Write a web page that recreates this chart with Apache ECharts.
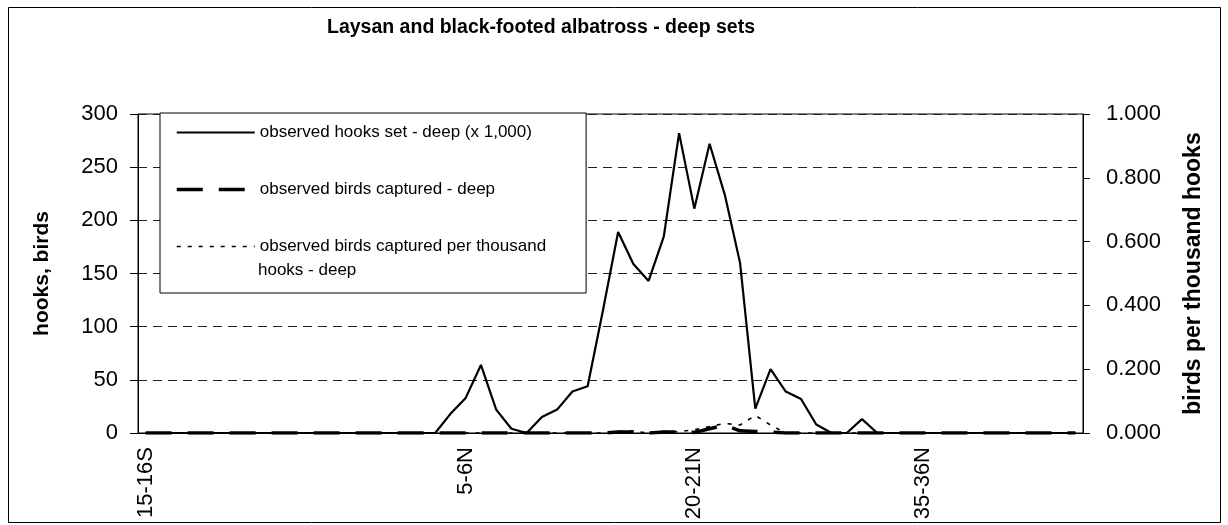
<!DOCTYPE html>
<html>
<head>
<meta charset="utf-8">
<script src="https://cdn.jsdelivr.net/npm/echarts@6/dist/echarts.min.js"></script>
<style>
html,body{margin:0;padding:0;background:#fff;}
#chart{width:1228px;height:525px;}
</style>
</head>
<body>
<div id="chart"></div>
<script>
var categories = [
  "15-16S","14-15S","13-14S","12-13S","11-12S","10-11S","9-10S","8-9S","7-8S","6-7S",
  "5-6S","4-5S","3-4S","2-3S","1-2S","0-1S","0-1N","1-2N","2-3N","3-4N",
  "4-5N","5-6N","6-7N","7-8N","8-9N","9-10N","10-11N","11-12N","12-13N","13-14N",
  "14-15N","15-16N","16-17N","17-18N","18-19N","19-20N","20-21N","21-22N","22-23N","23-24N",
  "24-25N","25-26N","26-27N","27-28N","28-29N","29-30N","30-31N","31-32N","32-33N","33-34N",
  "34-35N","35-36N","36-37N","37-38N","38-39N","39-40N","40-41N","41-42N","42-43N","43-44N",
  "44-45N","45-46N"
];
var shownLabels = ["15-16S","5-6N","20-21N","35-36N"];

// observed hooks set - deep (x 1,000)
var hooksSet = [
  0,0,0,0,0,0,0,0,0,0,
  0,0,0,0,0,0,0,0,0,0,
  18,33,64,22,4,0,15,22,39,44,
  115,189,159,143,185,282,211,272,224,160,
  23,60,39,32,8,0,0,13,0,0,
  0,0,0,0,0,0,0,0,0,0,
  0,0
];
// observed birds captured - deep
var birdsCaptured = [
  0,0,0,0,0,0,0,0,0,0,
  0,0,0,0,0,0,0,0,0,0,
  0,0,0,0,0,0,0,0,0,0,
  0,1,1,0,1,1,0.5,4,7.5,2,
  1.5,1,0,0,0,0,0,0,0,0,
  0,0,0,0,0,0,0,0,0,0,
  0,0
];
// observed birds captured per thousand hooks - deep
var birdsPerThousand = [
  0,0,0,0,0,0,0,0,0,0,
  0,0,0,0,0,0,0,0,0,0,
  0,0,0,0,0,0,0,0,0,0,
  0,0.005,0.006,0,0.005,0.004,0.01,0.02,0.03,0.025,
  0.055,0.025,0,0,0,0,0,0,0,0,
  0,0,0,0,0,0,0,0,0,0,
  0,0
];
</script>
<script>
var FONT = "'Liberation Sans', Arial, sans-serif";
var chart = echarts.init(document.getElementById('chart'));
var names = ['observed hooks set - deep (x 1,000)', 'observed birds captured - deep', 'observed birds captured per thousand'];
chart.setOption({
  animation: false,
  backgroundColor: '#fff',
  title: {
    text: 'Laysan and black-footed albatross - deep sets',
    left: 322, top: 13,
    textStyle: {fontFamily: FONT, fontSize: 19.5, fontWeight: 'bold', color: '#000'}
  },
  grid: {left: 138, right: 145, top: 114, bottom: 92, show: true, borderColor: '#000', borderWidth: 1, backgroundColor: 'transparent'},
  legend: {
    orient: 'vertical', left: 160, top: 113,
    itemWidth: 78, itemHeight: 17, itemGap: 40,
    padding: [11, 40, 38, 15],
    backgroundColor: '#fff', borderColor: '#000', borderWidth: 1,
    itemStyle: {opacity: 0},
    lineStyle: {width: 'inherit'},
    textStyle: {fontFamily: FONT, fontSize: 17, color: '#000'},
    data: names
  },
  xAxis: {
    type: 'category', data: categories, boundaryGap: true,
    axisLine: {lineStyle: {color: '#000', width: 1}},
    axisTick: {interval: 0, length: 5, lineStyle: {color: '#000'}},
    axisLabel: {
      rotate: 90, margin: 14, color: '#000', fontFamily: FONT, fontSize: 22,
      interval: function (i, v) { return shownLabels.indexOf(v) >= 0; }
    },
    splitLine: {show: false}
  },
  yAxis: [{
    type: 'value', min: 0, max: 300, interval: 50, position: 'left',
    name: 'hooks, birds', nameLocation: 'middle', nameRotate: 90, nameGap: 85,
    nameTextStyle: {fontFamily: FONT, fontSize: 21, fontWeight: 'bold', color: '#000'},
    axisLine: {show: true, lineStyle: {color: '#000'}},
    axisTick: {show: true, length: 8, lineStyle: {color: '#000'}},
    axisLabel: {margin: 20, color: '#000', fontFamily: FONT, fontSize: 22},
    splitLine: {show: true, lineStyle: {color: '#222', width: 1, type: [9, 6]}}
  }, {
    type: 'value', min: 0, max: 1, interval: 0.2, position: 'right',
    name: 'birds per thousand hooks', nameLocation: 'middle', nameRotate: 90, nameGap: 99,
    nameTextStyle: {fontFamily: FONT, fontSize: 23, fontWeight: 'bold', color: '#000'},
    axisLine: {show: true, lineStyle: {color: '#000'}},
    axisTick: {show: true, length: 7, lineStyle: {color: '#000'}},
    axisLabel: {margin: 23, color: '#000', fontFamily: FONT, fontSize: 22,
      formatter: function (v) { return v.toFixed(3); }},
    splitLine: {show: false}
  }],
  series: [{
    name: names[0], type: 'line', yAxisIndex: 0, data: hooksSet,
    symbol: 'none', lineStyle: {color: '#000', width: 2.2, type: 'solid'}, itemStyle: {color: '#000'}, z: 3
  }, {
    name: names[1], type: 'line', yAxisIndex: 0, data: birdsCaptured,
    symbol: 'none', lineStyle: {color: '#000', width: 3.5, type: [26, 16]}, itemStyle: {color: '#000'}, z: 3
  }, {
    name: names[2], type: 'line', yAxisIndex: 1, data: birdsPerThousand,
    symbol: 'none', lineStyle: {color: '#000', width: 1.6, type: [4, 7]}, itemStyle: {color: '#000'}, z: 3
  }],
  graphic: [{
    type: 'rect', z: -10, silent: true,
    shape: {x: 8.5, y: 7.5, width: 1212, height: 515},
    style: {fill: 'none', stroke: '#000', lineWidth: 1}
  }, {
    type: 'text', z: 100, left: 258, top: 262,
    style: {text: 'hooks - deep', fontFamily: FONT, fontSize: 17, fill: '#000'}
  }]
});
</script>
</body>
</html>
